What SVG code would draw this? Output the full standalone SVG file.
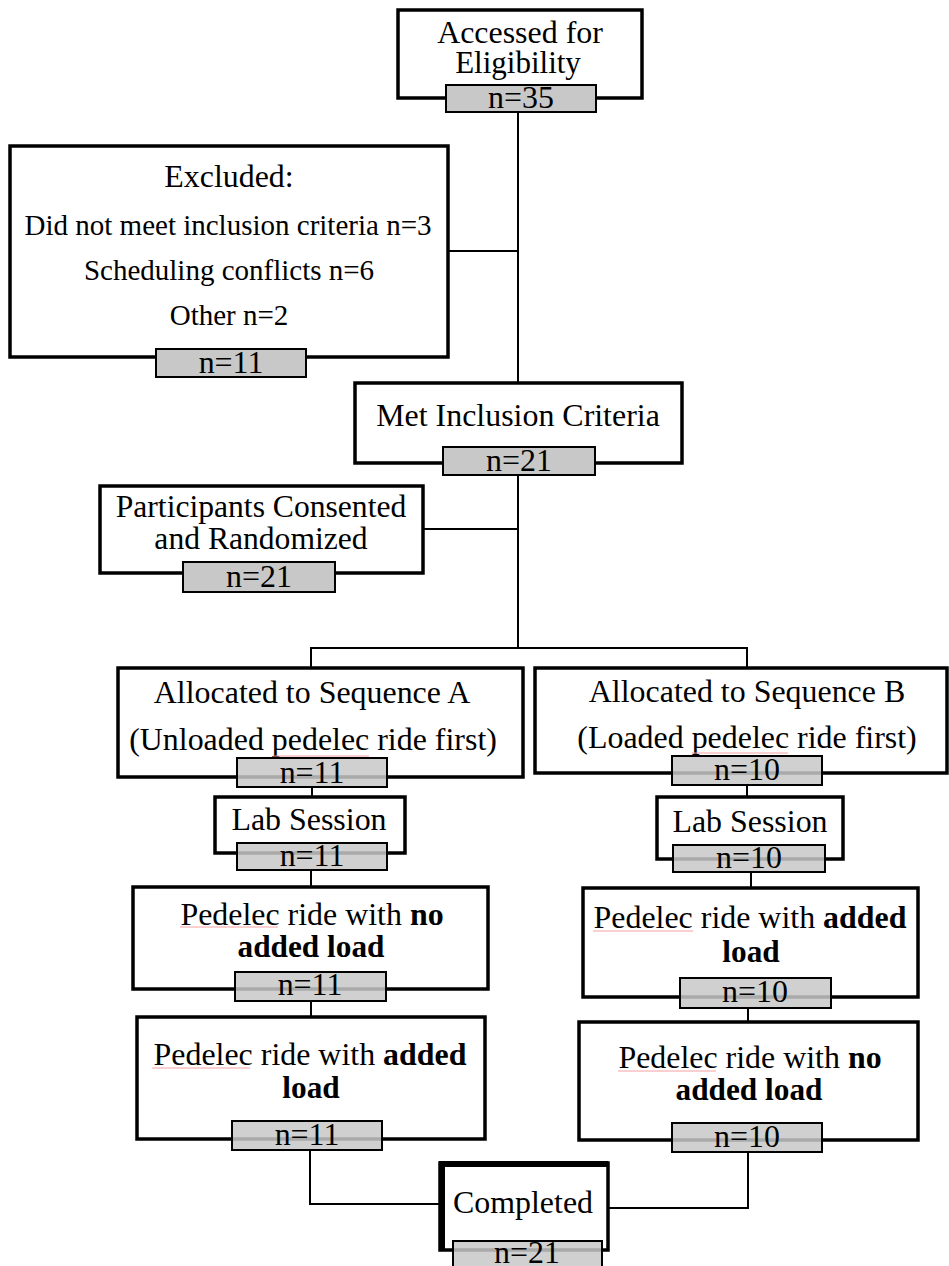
<svg xmlns="http://www.w3.org/2000/svg" width="949" height="1266" viewBox="0 0 949 1266">
<style>
.box{fill:#fff;stroke:#000;stroke-width:3.5}
.badge{fill:#c8c8c8;stroke:#000;stroke-width:2}
.badget{fill:#c8c8c8;fill-opacity:0.85;stroke:#000;stroke-width:2}
.t{font-family:"Liberation Serif","Times New Roman",serif;font-size:31px;fill:#000;text-anchor:middle}
.s{font-size:29px}
.b{font-weight:bold}
.c{fill:none;stroke:#000;stroke-width:2}
.sp{stroke:#f4a0a0;stroke-width:1}
</style>
<rect width="949" height="1266" fill="#fff"/>
<g id="connectors">
<path class="c" d="M518,112V383"/>
<path class="c" d="M448,251H518"/>
<path class="c" d="M518,475V648"/>
<path class="c" d="M423,529H518"/>
<path class="c" d="M311,668V648H747V668"/>
<path class="c" d="M312,787V797"/>
<path class="c" d="M311,870V887"/>
<path class="c" d="M311,1001V1017"/>
<path class="c" d="M310,1150V1204H440"/>
<path class="c" d="M747,785V797"/>
<path class="c" d="M751,872V888"/>
<path class="c" d="M748,1008V1022"/>
<path class="c" d="M748,1152V1208H608"/>
</g>
<g id="accessed">
<rect class="box" x="398" y="10" width="244" height="88"/>
<text class="t" transform="translate(520,43) scale(1.03,1)">Accessed for</text>
<text class="t" transform="translate(518,73)">Eligibility</text>
<rect class="badge" x="446" y="85" width="150" height="27"/>
<text class="t" transform="translate(521,108) scale(1.03,1)">n=35</text>
</g>
<g id="excluded">
<rect class="box" x="10" y="146" width="438" height="211"/>
<text class="t" transform="translate(229,187) scale(1.03,1)">Excluded:</text>
<text class="t s" transform="translate(228,235)">Did not meet inclusion criteria n=3</text>
<text class="t s" transform="translate(229,280)">Scheduling conflicts n=6</text>
<text class="t s" transform="translate(229,325)">Other n=2</text>
<rect class="badge" x="156" y="349" width="150" height="28"/>
<text class="t" transform="translate(231,373) scale(1.03,1)">n=11</text>
</g>
<g id="met">
<rect class="box" x="355" y="383" width="327" height="80"/>
<text class="t" transform="translate(518,426) scale(1.03,1)">Met Inclusion Criteria</text>
<rect class="badge" x="443" y="447" width="152" height="28"/>
<text class="t" transform="translate(519,471) scale(1.03,1)">n=21</text>
</g>
<g id="consented">
<rect class="box" x="100" y="486" width="323" height="87"/>
<text class="t" transform="translate(261,517) scale(1.02,1)">Participants Consented</text>
<text class="t" transform="translate(261,549) scale(1.02,1)">and Randomized</text>
<rect class="badge" x="183" y="562" width="152" height="30"/>
<text class="t" transform="translate(259,587) scale(1.03,1)">n=21</text>
</g>
<g id="seqA">
<rect class="box" x="118" y="668" width="405" height="109"/>
<text class="t" transform="translate(312,703) scale(1.03,1)">Allocated to Sequence A</text>
<text class="t" transform="translate(313,750) scale(1.03,1)">(Unloaded pedelec ride first)</text>
<path class="sp" d="M273,756H369"/>
<rect class="badget" x="237" y="758" width="150" height="29"/>
<text class="t" transform="translate(312,783) scale(1.03,1)">n=11</text>
</g>
<g id="seqB">
<rect class="box" x="535" y="668" width="412" height="105"/>
<text class="t" transform="translate(747,702) scale(1.03,1)">Allocated to Sequence B</text>
<text class="t" transform="translate(747,748) scale(1.03,1)">(Loaded pedelec ride first)</text>
<path class="sp" d="M692,753H788"/>
<rect class="badget" x="672" y="756" width="150" height="29"/>
<text class="t" transform="translate(747,780) scale(1.03,1)">n=10</text>
</g>
<g id="labA">
<rect class="box" x="215" y="797" width="190" height="56"/>
<text class="t" transform="translate(309,830) scale(1.03,1)">Lab Session</text>
<rect class="badget" x="237" y="843" width="150" height="27"/>
<text class="t" transform="translate(312,866) scale(1.03,1)">n=11</text>
</g>
<g id="labB">
<rect class="box" x="657" y="797" width="186" height="62"/>
<text class="t" transform="translate(750,832) scale(1.03,1)">Lab Session</text>
<rect class="badget" x="673" y="845" width="152" height="27"/>
<text class="t" transform="translate(749,868) scale(1.03,1)">n=10</text>
</g>
<g id="pedA1">
<rect class="box" x="133" y="887" width="355" height="102"/>
<text class="t" transform="translate(312,925) scale(1.03,1)">Pedelec ride with <tspan class="b">no</tspan></text>
<text class="t b" transform="translate(311,957) scale(1.01,1)">added load</text>
<path class="sp" d="M180,927H278"/>
<rect class="badget" x="235" y="972" width="151" height="29"/>
<text class="t" transform="translate(310,995) scale(1.03,1)">n=11</text>
</g>
<g id="pedA2">
<rect class="box" x="137" y="1017" width="348" height="122"/>
<text class="t" transform="translate(310,1065) scale(1.03,1)">Pedelec ride with <tspan class="b">added</tspan></text>
<text class="t b" transform="translate(311,1098) scale(1.01,1)">load</text>
<path class="sp" d="M152,1068H250"/>
<rect class="badget" x="232" y="1121" width="150" height="29"/>
<text class="t" transform="translate(307,1145) scale(1.03,1)">n=11</text>
</g>
<g id="pedB1">
<rect class="box" x="583" y="888" width="335" height="109"/>
<text class="t" transform="translate(750,928) scale(1.03,1)">Pedelec ride with <tspan class="b">added</tspan></text>
<text class="t b" transform="translate(751,962) scale(1.01,1)">load</text>
<path class="sp" d="M593,931H693"/>
<rect class="badget" x="680" y="978" width="151" height="30"/>
<text class="t" transform="translate(755,1002) scale(1.03,1)">n=10</text>
</g>
<g id="pedB2">
<rect class="box" x="579" y="1022" width="339" height="118"/>
<text class="t" transform="translate(750,1068) scale(1.03,1)">Pedelec ride with <tspan class="b">no</tspan></text>
<text class="t b" transform="translate(749,1100) scale(1.01,1)">added load</text>
<path class="sp" d="M618,1071H716"/>
<rect class="badget" x="672" y="1123" width="150" height="29"/>
<text class="t" transform="translate(747,1147) scale(1.03,1)">n=10</text>
</g>
<g id="completed">
<rect class="box" x="440" y="1163" width="168" height="87"/>
<path d="M442,1250V1164H608" fill="none" stroke="#000" stroke-width="6"/>
<text class="t" transform="translate(523,1213) scale(1.03,1)">Completed</text>
<rect class="badget" x="453" y="1241" width="149" height="30"/>
<text class="t" transform="translate(527,1263) scale(1.03,1)">n=21</text>
</g>
</svg>
